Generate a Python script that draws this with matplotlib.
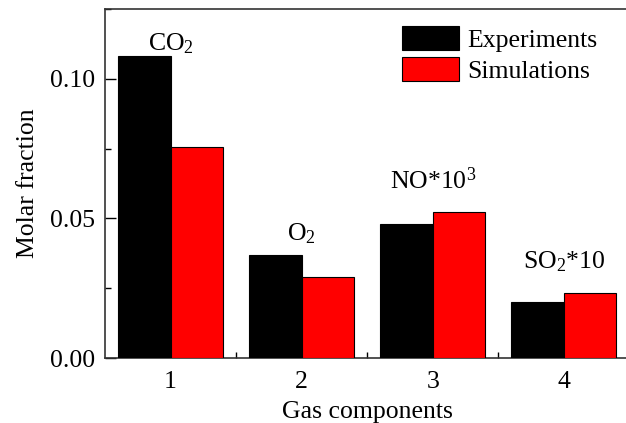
import matplotlib
matplotlib.use("Agg")
import matplotlib.pyplot as plt
import numpy as np
from matplotlib.ticker import MultipleLocator, FixedLocator

plt.rcParams['font.family'] = ['Liberation Serif', 'DejaVu Serif']
plt.rcParams['mathtext.fontset'] = 'custom'
plt.rcParams['mathtext.rm'] = 'Liberation Serif'
plt.rcParams['mathtext.it'] = 'Liberation Serif:italic'

categories = [1, 2, 3, 4]
experiments = [0.108, 0.0369, 0.0481, 0.0201]
simulations = [0.0757, 0.0291, 0.0524, 0.0234]
labels = ["CO$_2$", "O$_2$", "NO*10$^3$", "SO$_2$*10"]
label_y = [0.1125, 0.0445, 0.0635, 0.0345]

fs = 18.5
fig = plt.figure(figsize=(6.26, 4.23), dpi=100)
ax = fig.add_axes([105/626, 1-358/423, 524.5/626, 349/423])

x = np.array(categories, dtype=float)
w = 0.4
ax.bar(x - w/2, experiments, width=w, color='black', edgecolor='black', linewidth=0.8, label='Experiments', zorder=3)
ax.bar(x + w/2, simulations, width=w, color='#ff0000', edgecolor='black', linewidth=0.8, label='Simulations', zorder=3)

for xi, lab, ly in zip(x, labels, label_y):
    ax.text(xi, ly, lab, ha='center', va='center', fontsize=fs)

ax.set_xlim(0.5, 4.5)
ax.set_ylim(0, 0.125)
ax.set_xticks(categories)
ax.xaxis.set_minor_locator(FixedLocator([1.5, 2.5, 3.5]))
ax.yaxis.set_major_locator(MultipleLocator(0.05))
ax.yaxis.set_minor_locator(MultipleLocator(0.025))
ax.set_yticklabels([f"{v:.2f}" for v in ax.get_yticks()])
ax.tick_params(axis='both', which='both', direction='in', labelsize=fs, width=1.0)
ax.tick_params(axis='y', which='major', length=8, pad=7)
ax.tick_params(axis='y', which='minor', length=4)
ax.tick_params(axis='x', which='major', length=0, pad=9)
ax.tick_params(axis='x', which='minor', length=4)
for s in ax.spines.values():
    s.set_linewidth(1.2)
    s.set_color('#333333')

ax.set_xlabel("Gas components", fontsize=fs, labelpad=6)
ax.set_ylabel("Molar fraction", fontsize=fs, labelpad=8)

leg = ax.legend(loc='upper left', bbox_to_anchor=(402/626, 1-26/423), bbox_transform=fig.transFigure,
                frameon=False, fontsize=fs, handlelength=2.2, handleheight=1.05,
                handletextpad=0.35, labelspacing=0.2, borderpad=0, borderaxespad=0)

fig.savefig("out.png", dpi=100)
